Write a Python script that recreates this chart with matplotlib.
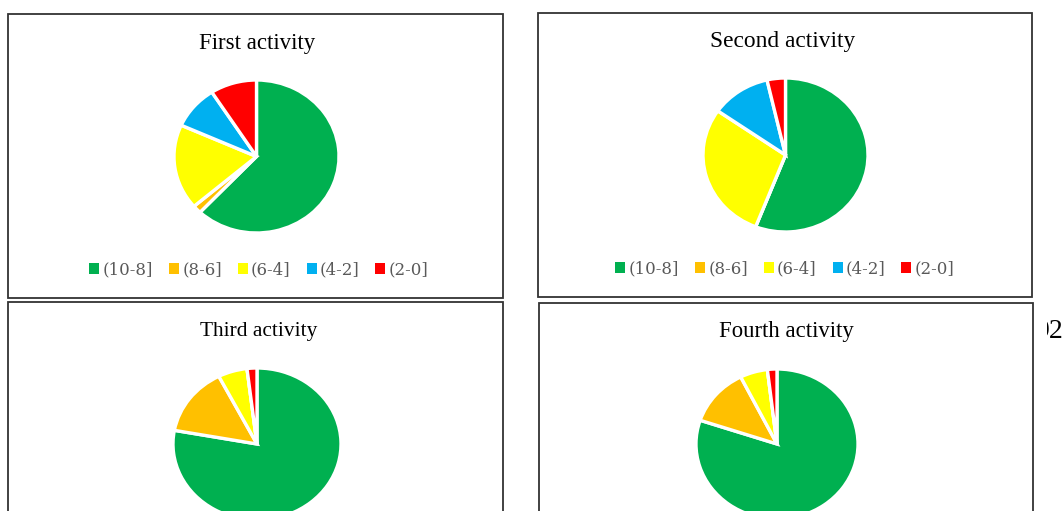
import matplotlib.pyplot as plt
from matplotlib.patches import Rectangle, Patch

# score bands (legend order) and colours
bands = ["(10-8]", "(8-6]", "(6-4]", "(4-2]", "(2-0]"]
band_colors = ["#00B050", "#FFC000", "#FFFF00", "#00B0F0", "#FF0000"]

# share of students per band (%)
first_activity = [62.0, 1.7, 18.0, 9.2, 9.1]
second_activity = [55.9, 0.0, 28.8, 11.7, 3.6]
third_activity = [77.8, 14.6, 5.6, 0.0, 1.9]
fourth_activity = [80.2, 12.5, 5.5, 0.0, 1.9]

titles = ["First activity", "Second activity", "Third activity", "Fourth activity"]
activities = [first_activity, second_activity, third_activity, fourth_activity]

W, H = 1064, 511
fig = plt.figure(figsize=(W / 100, H / 100), dpi=100)


def fx(x):
    return x / W


def fy(y):
    return 1 - y / H


# panel boxes in pixels: left, top, right, bottom
boxes = [(8, 14, 503, 298), (538, 13, 1032, 297), (8, 302, 503, 560), (539, 303, 1033, 560)]
# pie centre and radii (px)
pies = [(256.5, 156.5, 82.5, 76.5), (785.5, 155, 82.5, 77), (257, 444, 84, 76), (777, 444, 81, 75)]
title_pos = [(257, 44, 16.5), (783, 42, 16.8), (259, 331, 15.4), (786, 332, 16.4)]
legend_y = [270, 269, None, None]

for i in range(4):
    l, t, r, b = boxes[i]
    fig.patches.append(Rectangle((fx(l), fy(b)), fx(r) - fx(l), fy(t) - fy(b),
                                 transform=fig.transFigure, fill=False,
                                 edgecolor="#333333", linewidth=1.3))

    cx, cy, rx, ry = pies[i]
    ax = fig.add_axes([fx(cx - rx), fy(cy + ry), 2 * rx / W, 2 * ry / H])
    wedges, _ = ax.pie(activities[i], colors=band_colors, startangle=90, counterclock=False,
                       wedgeprops=dict(edgecolor="white", linewidth=2.4))
    for w in wedges:
        w.set_clip_on(False)
    ax.set_aspect("auto")
    ax.set_xlim(-1, 1)
    ax.set_ylim(-1, 1)
    ax.axis("off")

    tx, ty, ts = title_pos[i]
    fig.text(fx(tx), fy(ty), titles[i], ha="center", va="center",
             fontsize=ts, family="Liberation Serif", color="black")

    if legend_y[i] is not None:
        handles = [Patch(facecolor=c, edgecolor="none") for c in band_colors]
        fig.legend(handles, bands, loc="center", ncol=5,
                   bbox_to_anchor=(fx(tx + 2), fy(legend_y[i])), frameon=False,
                   prop={"family": "DejaVu Serif", "size": 12},
                   labelcolor="#595959", handlelength=0.6, handleheight=0.6,
                   handletextpad=0.2, columnspacing=0.95, borderpad=0)

# page number peeking out at the right edge
fig.text(fx(1063), fy(331), "92", ha="right", va="center", fontsize=20,
         family="Liberation Serif", color="black")
fig.patches.append(Rectangle((fx(1036), fy(350)), fx(1047) - fx(1036), fy(310) - fy(350),
                             transform=fig.transFigure, facecolor="white",
                             edgecolor="none", zorder=5))

fig.savefig("out.png", dpi=100)
